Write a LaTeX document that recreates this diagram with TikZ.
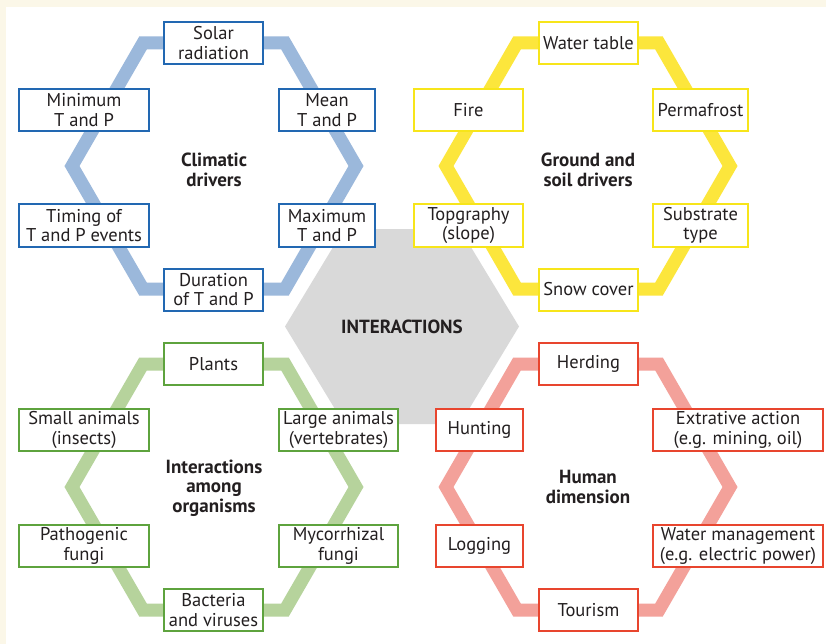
\documentclass[tikz,border=0pt]{standalone}
\usepackage{fontspec}
\setmainfont{PT Sans}
\definecolor{cream}{HTML}{FBF7E8}
\definecolor{hubgray}{HTML}{D9D9D9}
\definecolor{inkdark}{HTML}{231F20}
\definecolor{bandblue}{HTML}{9BB8DB}
\definecolor{edgeblue}{HTML}{2268B2}
\definecolor{bandyellow}{HTML}{FCE63C}
\definecolor{edgeyellow}{HTML}{F7E51A}
\definecolor{bandgreen}{HTML}{B6D39C}
\definecolor{edgegreen}{HTML}{5EA33E}
\definecolor{bandred}{HTML}{F3A19A}
\definecolor{edgered}{HTML}{E8452E}
\newcommand{\hexring}[2]{%
  \draw[ring=#2] (-142,0) -- (-71,-123) -- (71,-123) -- (142,0) -- (71,123) -- (-71,123) -- cycle;}
\begin{document}
\begin{tikzpicture}[x=1pt,y=-1pt,
  ring/.style={draw=#1, line width=13pt, line join=miter},
  itembox/.style={draw=#1, line width=2pt, fill=white, text=inkdark,
    minimum height=42pt, inner sep=1pt, align=center,
    font=\fontsize{18.5}{19.5}\selectfont},
  heading/.style={text=inkdark, align=center, font=\bfseries\fontsize{19}{19.5}\selectfont}]
\useasboundingbox (0,0) rectangle (826,644);
% page background and white panel
\fill[cream] (0,0) rectangle (826,644);
\fill[white] (6,7) rectangle (826,644);
% central hub
\fill[hubgray] (285,326.5) -- (344,229) -- (460,229) -- (519,326.5) -- (460,424) -- (344,424) -- cycle;
\node[heading] (hub) at (402,326.5) {INTERACTIONS};
% the four rings
\begin{scope}[shift={(214,166)}]\hexring{}{bandblue}\end{scope}
\begin{scope}[shift={(588,166)}]\hexring{}{bandyellow}\end{scope}
\begin{scope}[shift={(214,487)}]\hexring{}{bandgreen}\end{scope}
\begin{scope}[shift={(588,487)}]\hexring{}{bandred}\end{scope}
% ring titles
\node[heading] (climT) at (214,170) {Climatic\\drivers};
\node[heading] (soilT) at (588,170) {Ground and\\soil drivers};
\node[heading] (orgT) at (214,488) {Interactions\\among\\organisms};
\node[heading] (humT) at (588,487) {Human\\dimension};
% climatic drivers
\node[itembox=edgeblue, minimum width=99pt] (solar) at (213.5,43) {Solar\\radiation};
\node[itembox=edgeblue, minimum width=130pt] (minTP) at (84,110) {Minimum\\T and P};
\node[itembox=edgeblue, minimum width=96pt] (meanTP) at (327,110) {Mean\\T and P};
\node[itembox=edgeblue, minimum width=130pt] (timing) at (84,225.5) {Timing of\\T and P events};
\node[itembox=edgeblue, minimum width=96pt] (maxTP) at (327,225.5) {Maximum\\T and P};
\node[itembox=edgeblue, minimum width=99pt] (duration) at (213.5,289.5) {Duration\\of T and P};
% ground and soil drivers
\node[itembox=edgeyellow, minimum width=99pt] (water) at (588.5,43) {Water table};
\node[itembox=edgeyellow, minimum width=109pt] (fire) at (468.5,110) {Fire};
\node[itembox=edgeyellow, minimum width=95pt] (perma) at (700.5,110) {Permafrost};
\node[itembox=edgeyellow, minimum width=109pt] (topo) at (468.5,225.5) {Topgraphy\\(slope)};
\node[itembox=edgeyellow, minimum width=95pt] (substrate) at (700.5,225.5) {Substrate\\type};
\node[itembox=edgeyellow, minimum width=99pt] (snow) at (588.5,289.5) {Snow cover};
% interactions among organisms
\node[itembox=edgegreen, minimum width=99pt] (plants) at (213.5,364) {Plants};
\node[itembox=edgegreen, minimum width=130pt] (small) at (84,430) {Small animals\\(insects)};
\node[itembox=edgegreen, minimum width=119pt] (large) at (338.5,430) {Large animals\\(vertebrates)};
\node[itembox=edgegreen, minimum width=130pt] (patho) at (84,546) {Pathogenic\\fungi};
\node[itembox=edgegreen, minimum width=119pt] (myco) at (338.5,546) {Mycorrhizal\\fungi};
\node[itembox=edgegreen, minimum width=99pt] (bact) at (213.5,610) {Bacteria\\and viruses};
% human dimension
\node[itembox=edgered, minimum width=99pt] (herding) at (588.5,364) {Herding};
\node[itembox=edgered, minimum width=87pt] (hunting) at (479.5,430) {Hunting};
\node[itembox=edgered, minimum width=170pt] (extract) at (738,430) {Extrative action\\(e.g. mining, oil)};
\node[itembox=edgered, minimum width=87pt] (logging) at (479.5,546) {Logging};
\node[itembox=edgered, minimum width=170pt] (waterman) at (738,546) {Water management\\(e.g. electric power)};
\node[itembox=edgered, minimum width=99pt] (tourism) at (588.5,610) {Tourism};
\end{tikzpicture}
\end{document}
